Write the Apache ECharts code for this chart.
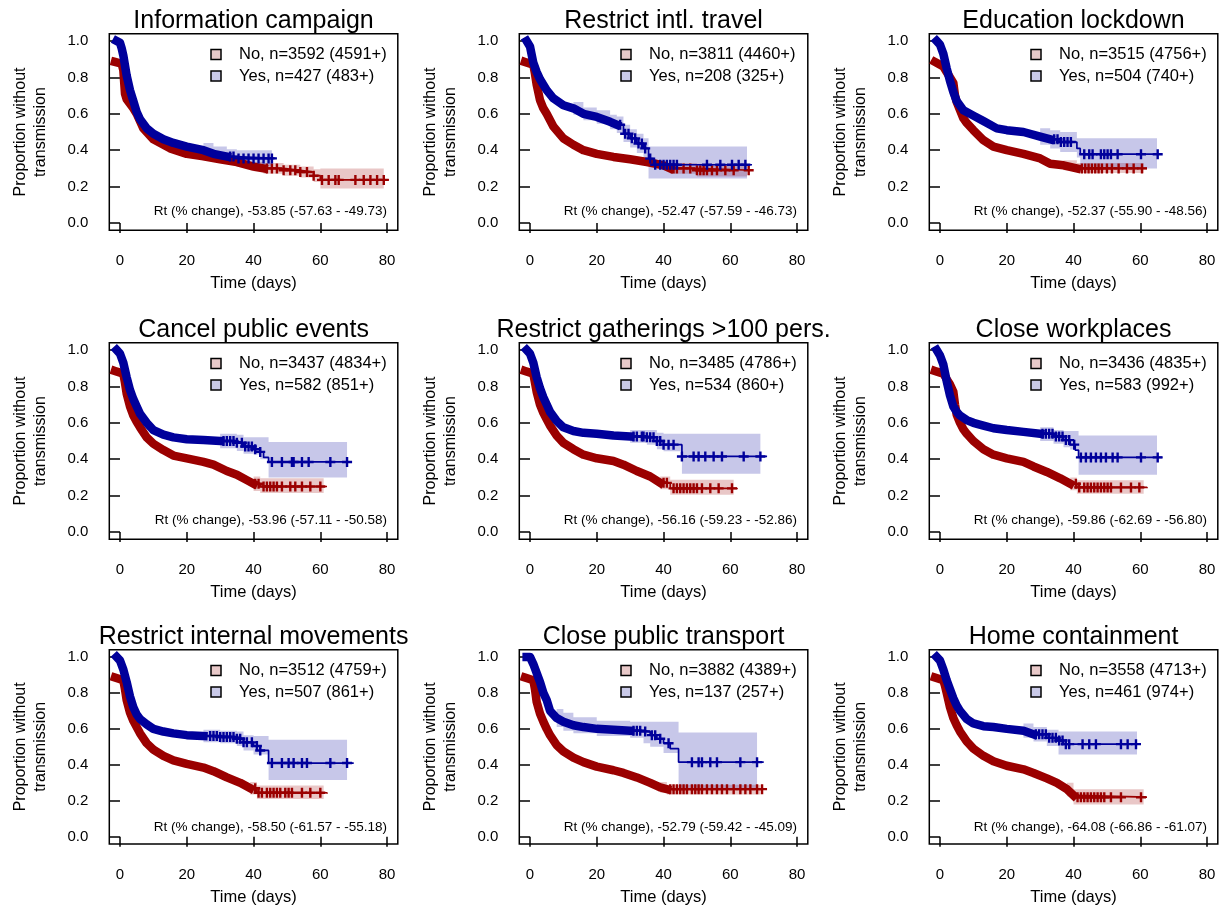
<!DOCTYPE html>
<html><head><meta charset="utf-8">
<script src="https://cdn.jsdelivr.net/npm/echarts@6/dist/echarts.min.js"></script>
<style>html,body{margin:0;padding:0;background:#fff}#c{width:1219px;height:907px}</style>
</head><body><div id="c"></div>
<script>
// ---------------- DATA ----------------
const TITLES = ["Information campaign","Restrict intl. travel","Education lockdown","Cancel public events","Restrict gatherings >100 pers.","Close workplaces","Restrict internal movements","Close public transport","Home containment"];
const NO_LABELS = ["No, n=3592 (4591+)","No, n=3811 (4460+)","No, n=3515 (4756+)","No, n=3437 (4834+)","No, n=3485 (4786+)","No, n=3436 (4835+)","No, n=3512 (4759+)","No, n=3882 (4389+)","No, n=3558 (4713+)"];
const YES_LABELS = ["Yes, n=427 (483+)","Yes, n=208 (325+)","Yes, n=504 (740+)","Yes, n=582 (851+)","Yes, n=534 (860+)","Yes, n=583 (992+)","Yes, n=507 (861+)","Yes, n=137 (257+)","Yes, n=461 (974+)"];
const RT_LABELS = ["Rt (% change), -53.85 (-57.63 - -49.73)","Rt (% change), -52.47 (-57.59 - -46.73)","Rt (% change), -52.37 (-55.90 - -48.56)","Rt (% change), -53.96 (-57.11 - -50.58)","Rt (% change), -56.16 (-59.23 - -52.86)","Rt (% change), -59.86 (-62.69 - -56.80)","Rt (% change), -58.50 (-61.57 - -55.18)","Rt (% change), -52.79 (-59.42 - -45.09)","Rt (% change), -64.08 (-66.86 - -61.07)"];
const X_TICKS = [0, 20, 40, 60, 80];
const Y_TICKS = [0, 0.2, 0.4, 0.6, 0.8, 1.0];
// time up to which censoring marks are so dense they merge into a thick band
const DENSE_NO = [43, 42, 41, 40, 39, 39, 39, 41, 40];
const DENSE_YES = [32, 26, 33, 30, 30, 30, 25, 30, 28];

// 1 Information campaign
const ic_no_t = [-1.5, 0.5, 1, 1.5, 2, 4, 5, 7, 10, 15, 20, 25, 30, 35, 40, 43, 49, 54, 58, 60, 80.5];
const ic_no_s = [0.885, 0.875, 0.84, 0.71, 0.68, 0.63, 0.60, 0.52, 0.46, 0.41, 0.38, 0.367, 0.35, 0.335, 0.31, 0.30, 0.29, 0.28, 0.26, 0.237, 0.237];
const ic_no_bt = [40, 43, 49, 54, 58, 60, 79];
const ic_no_lo = [0.285, 0.27, 0.26, 0.25, 0.225, 0.19, 0.19];
const ic_no_hi = [0.335, 0.33, 0.32, 0.31, 0.295, 0.30, 0.30];
const ic_no_cens = [44, 45.5, 47, 49, 51, 52.5, 54, 56, 58, 60.5, 62.5, 64.5, 65.5, 70.5, 73, 75, 77, 79];
const ic_yes_t = [-1, 0, 0.5, 1, 2, 3, 4, 5, 6, 8, 10, 13, 16, 20, 25, 28, 32, 35, 46.5];
const ic_yes_s = [1.0, 0.99, 0.96, 0.92, 0.81, 0.73, 0.67, 0.61, 0.57, 0.52, 0.49, 0.46, 0.44, 0.42, 0.40, 0.38, 0.365, 0.355, 0.355];
const ic_yes_bt = [25, 28, 32, 35, 45.5];
const ic_yes_lo = [0.36, 0.34, 0.325, 0.31, 0.31];
const ic_yes_hi = [0.44, 0.42, 0.405, 0.40, 0.40];
const ic_yes_cens = [33, 34, 35.5, 37, 38.5, 40, 41.5, 43, 44.5, 45.5];

// 2 Restrict intl. travel
const rit_no_t = [-1.5, 1, 1.5, 2, 3, 4, 5, 7, 10, 13, 16, 20, 25, 30, 35, 40, 42, 50, 66.5];
const rit_no_s = [0.885, 0.87, 0.82, 0.76, 0.675, 0.63, 0.60, 0.53, 0.465, 0.43, 0.40, 0.38, 0.363, 0.35, 0.335, 0.317, 0.30, 0.29, 0.29];
const rit_no_bt = [42, 50, 65];
const rit_no_lo = [0.27, 0.255, 0.255];
const rit_no_hi = [0.33, 0.325, 0.325];
const rit_no_cens = [43, 44, 46, 48, 50, 51, 52, 53, 54.5, 56, 58.5, 61, 65.5];
const rit_yes_t = [-1, 0, 1, 2, 3, 4, 5, 7, 10, 13, 16, 20, 24, 26, 28, 30, 32, 34, 35.5, 37, 66.5];
const rit_yes_s = [1.0, 0.97, 0.88, 0.83, 0.79, 0.76, 0.73, 0.685, 0.647, 0.63, 0.60, 0.583, 0.556, 0.54, 0.49, 0.465, 0.437, 0.41, 0.354, 0.32, 0.32];
const rit_yes_bt = [13, 16, 20, 24, 26, 28, 30, 32, 34, 35.5, 65];
const rit_yes_lo = [0.595, 0.565, 0.545, 0.515, 0.495, 0.445, 0.415, 0.385, 0.355, 0.245, 0.245];
const rit_yes_hi = [0.665, 0.635, 0.62, 0.595, 0.585, 0.54, 0.515, 0.49, 0.465, 0.42, 0.42];
const rit_yes_cens = [27, 28.5, 29.5, 30.5, 31.5, 32.5, 33.5, 34.5, 36, 37.5, 39, 40, 41, 42, 43, 44, 53, 57, 60.5, 62.5, 64.5];

// 3 Education lockdown
const el_no_t = [-1.5, 1, 2, 3, 4, 4.5, 5, 6, 7, 8, 10, 13, 16, 20, 25, 30, 33, 37, 41, 62];
const el_no_s = [0.885, 0.86, 0.83, 0.80, 0.77, 0.70, 0.665, 0.62, 0.575, 0.55, 0.51, 0.455, 0.42, 0.40, 0.38, 0.355, 0.326, 0.317, 0.30, 0.30];
const el_no_bt = [37, 41, 61];
const el_no_lo = [0.29, 0.275, 0.275];
const el_no_hi = [0.345, 0.33, 0.33];
const el_no_cens = [42.5, 43.5, 44.5, 45.5, 46.5, 47.5, 48.5, 50, 51.5, 53.5, 56, 58, 60.5];
const el_yes_t = [-1, 0, 1, 2, 3, 4, 5, 7, 10, 13, 17, 20, 25, 30, 33, 36, 41, 42, 66.5];
const el_yes_s = [1.0, 0.98, 0.93, 0.85, 0.78, 0.72, 0.67, 0.62, 0.59, 0.56, 0.52, 0.51, 0.50, 0.475, 0.46, 0.445, 0.41, 0.378, 0.378];
const el_yes_bt = [30, 33, 36, 41, 42, 65];
const el_yes_lo = [0.43, 0.41, 0.39, 0.36, 0.30, 0.30];
const el_yes_hi = [0.52, 0.51, 0.50, 0.465, 0.465, 0.465];
const el_yes_cens = [34.2, 35.2, 36.2, 37.2, 38.2, 39.2, 43.2, 44.7, 45.7, 48.2, 49.2, 50.2, 51.2, 53.2, 60.2, 65.2];

// 4 Cancel public events
const cpe_no_t = [-1.5, 1, 1.5, 2, 3, 4, 5, 6, 8, 10, 13, 16, 20, 25, 28, 32, 35, 38, 40, 42, 62];
const cpe_no_s = [0.885, 0.87, 0.82, 0.76, 0.69, 0.64, 0.605, 0.575, 0.52, 0.485, 0.45, 0.42, 0.405, 0.385, 0.37, 0.335, 0.315, 0.285, 0.265, 0.25, 0.25];
const cpe_no_bt = [40, 42, 61];
const cpe_no_lo = [0.225, 0.215, 0.215];
const cpe_no_hi = [0.305, 0.295, 0.295];
const cpe_no_cens = [40.5, 41.5, 43, 44, 45, 46, 47, 48.5, 51, 52.5, 54.5, 57, 60];
const cpe_yes_t = [-1, 0, 1, 2, 3, 4, 5, 6, 8, 10, 13, 16, 20, 25, 30, 35, 37, 40, 42, 43, 44.5, 69.5];
const cpe_yes_s = [1.0, 0.98, 0.93, 0.85, 0.78, 0.73, 0.69, 0.65, 0.60, 0.56, 0.535, 0.52, 0.51, 0.505, 0.50, 0.49, 0.47, 0.455, 0.44, 0.41, 0.385, 0.385];
const cpe_yes_bt = [30, 35, 37, 40, 42, 44.5, 68];
const cpe_yes_lo = [0.46, 0.445, 0.43, 0.426, 0.40, 0.30, 0.30];
const cpe_yes_hi = [0.54, 0.535, 0.52, 0.52, 0.52, 0.495, 0.495];
const cpe_yes_cens = [31, 32, 33, 34, 35, 36.5, 37.5, 38.5, 39.5, 40.5, 42, 45.5, 48.5, 51.5, 52, 54.5, 56.5, 63, 68];

// 5 Restrict gatherings >100 pers.
const rg_no_t = [-1.5, 1, 1.5, 2, 3, 4, 5, 6, 8, 10, 13, 16, 20, 25, 28, 32, 36, 39, 42, 62];
const rg_no_s = [0.885, 0.87, 0.82, 0.77, 0.70, 0.655, 0.62, 0.585, 0.53, 0.49, 0.455, 0.425, 0.405, 0.39, 0.37, 0.335, 0.305, 0.27, 0.24, 0.235];
const rg_no_bt = [39, 42, 61];
const rg_no_lo = [0.235, 0.205, 0.205];
const rg_no_hi = [0.305, 0.287, 0.287];
const rg_no_cens = [40, 41, 43, 44, 45, 46, 47, 48, 49, 50, 51.5, 54, 56.5, 60.5];
const rg_yes_t = [-1, 0, 1, 2, 3, 4, 5, 6, 8, 10, 13, 16, 20, 25, 30, 35, 38, 40, 45.5, 71];
const rg_yes_s = [1.0, 0.98, 0.93, 0.85, 0.79, 0.74, 0.70, 0.66, 0.61, 0.575, 0.555, 0.545, 0.54, 0.53, 0.525, 0.52, 0.50, 0.48, 0.415, 0.415];
const rg_yes_bt = [30, 35, 38, 40, 45.5, 69];
const rg_yes_lo = [0.49, 0.48, 0.455, 0.444, 0.32, 0.32];
const rg_yes_hi = [0.56, 0.56, 0.545, 0.54, 0.54, 0.54];
const rg_yes_cens = [31, 32, 33.5, 34, 35, 36, 37, 38, 39, 40, 41.5, 43, 45.5, 49, 50.5, 52.5, 55, 57.5, 64, 69];

// 6 Close workplaces
const cw_no_t = [-1.5, 1, 2, 3, 4, 4.5, 5, 6, 7, 8, 10, 13, 16, 20, 25, 28, 32, 36, 39, 41, 62];
const cw_no_s = [0.885, 0.87, 0.84, 0.81, 0.77, 0.70, 0.645, 0.60, 0.565, 0.54, 0.50, 0.455, 0.425, 0.405, 0.385, 0.36, 0.33, 0.295, 0.265, 0.245, 0.24];
const cw_no_bt = [39, 41, 61];
const cw_no_lo = [0.23, 0.21, 0.21];
const cw_no_hi = [0.30, 0.285, 0.285];
const cw_no_cens = [40.7, 41.7, 43.2, 44.2, 45.2, 46.2, 47.2, 48.2, 49.2, 50.2, 51.2, 54.2, 57.2, 59.7];
const cw_yes_t = [-1, 0, 1, 2, 3, 4, 5, 6, 8, 10, 13, 16, 20, 25, 30, 34, 37, 39, 40.5, 41.5, 66.5];
const cw_yes_s = [1.0, 0.97, 0.92, 0.83, 0.75, 0.69, 0.66, 0.64, 0.615, 0.60, 0.585, 0.57, 0.56, 0.55, 0.54, 0.525, 0.505, 0.48, 0.45, 0.41, 0.41];
const cw_yes_bt = [30, 34, 37, 39, 41.5, 65];
const cw_yes_lo = [0.50, 0.485, 0.465, 0.453, 0.315, 0.315];
const cw_yes_hi = [0.575, 0.56, 0.555, 0.555, 0.53, 0.53];
const cw_yes_cens = [30.7, 31.7, 32.7, 33.7, 34.7, 35.7, 36.7, 37.7, 38.7, 40.2, 42.2, 43.7, 45.2, 46.7, 48.2, 49.7, 51.7, 53.2, 60.2, 65.2];

// 7 Restrict internal movements
const rim_no_t = [-1.5, 1, 1.5, 2, 3, 4, 5, 6, 8, 10, 13, 16, 20, 25, 28, 32, 36, 39, 41, 62];
const rim_no_s = [0.885, 0.87, 0.82, 0.76, 0.69, 0.645, 0.61, 0.575, 0.52, 0.485, 0.45, 0.425, 0.405, 0.385, 0.365, 0.33, 0.30, 0.27, 0.245, 0.24];
const rim_no_bt = [39, 41, 61];
const rim_no_lo = [0.235, 0.21, 0.21];
const rim_no_hi = [0.305, 0.285, 0.285];
const rim_no_cens = [40.5, 41.5, 42.5, 44, 45, 46, 47, 48, 49.5, 50.5, 51.5, 54.5, 57, 60];
const rim_yes_t = [-1, 0, 1, 2, 3, 4, 5, 6, 8, 10, 13, 16, 20, 25, 30, 35, 37, 40, 42, 44.5, 70];
const rim_yes_s = [1.0, 0.98, 0.93, 0.86, 0.78, 0.72, 0.68, 0.655, 0.625, 0.60, 0.585, 0.575, 0.565, 0.56, 0.555, 0.545, 0.525, 0.505, 0.48, 0.41, 0.41];
const rim_yes_bt = [25, 30, 35, 37, 40, 44.5, 68];
const rim_yes_lo = [0.525, 0.52, 0.505, 0.48, 0.457, 0.316, 0.316];
const rim_yes_hi = [0.595, 0.59, 0.585, 0.565, 0.56, 0.54, 0.54];
const rim_yes_cens = [27, 28, 29, 30, 31, 32, 33, 34, 35, 36, 37, 38, 39.5, 41, 42, 45.5, 48.5, 50.5, 52, 54.5, 56, 63, 68];

// 8 Close public transport
const cpt_no_t = [-1.5, 1, 1.5, 2, 3, 4, 5, 6, 8, 10, 13, 16, 20, 25, 28, 32, 36, 39, 41, 70];
const cpt_no_s = [0.885, 0.87, 0.82, 0.75, 0.685, 0.64, 0.60, 0.565, 0.51, 0.475, 0.44, 0.415, 0.39, 0.37, 0.355, 0.33, 0.30, 0.275, 0.265, 0.265];
const cpt_no_bt = [39, 41, 69];
const cpt_no_lo = [0.245, 0.235, 0.235];
const cpt_no_hi = [0.305, 0.29, 0.29];
const cpt_no_cens = [42, 43, 44, 45, 46, 47, 48.5, 49.5, 50.5, 51.5, 53, 54.5, 56, 57.5, 59, 61, 63, 64.5, 66, 68, 69.5];
const cpt_yes_t = [-1, 0, 1, 2, 3, 4, 5, 6, 8, 10, 13, 16, 20, 25, 30, 34, 36, 38, 40, 42, 44.5, 70];
const cpt_yes_s = [1.0, 1.0, 0.96, 0.91, 0.86, 0.80, 0.76, 0.70, 0.66, 0.64, 0.62, 0.61, 0.60, 0.595, 0.59, 0.585, 0.565, 0.545, 0.52, 0.49, 0.415, 0.415];
const cpt_yes_bt = [8, 10, 13, 20, 30, 34, 36, 40, 44.5, 68];
const cpt_yes_lo = [0.61, 0.59, 0.575, 0.56, 0.55, 0.52, 0.50, 0.466, 0.26, 0.26];
const cpt_yes_hi = [0.71, 0.69, 0.665, 0.645, 0.64, 0.64, 0.64, 0.64, 0.58, 0.58];
const cpt_yes_cens = [31, 32, 33, 34.5, 36.5, 37.5, 39, 41.5, 48.5, 50.5, 51.5, 54, 56, 63, 68];

// 9 Home containment
const hc_no_t = [-1.5, 1, 1.5, 2, 3, 4, 5, 6, 8, 10, 13, 16, 20, 25, 28, 32, 35, 38, 40, 41, 62];
const hc_no_s = [0.885, 0.87, 0.84, 0.80, 0.72, 0.66, 0.62, 0.585, 0.53, 0.49, 0.45, 0.42, 0.395, 0.375, 0.355, 0.325, 0.30, 0.265, 0.23, 0.22, 0.22];
const hc_no_bt = [38, 40, 61];
const hc_no_lo = [0.225, 0.18, 0.18];
const hc_no_hi = [0.30, 0.265, 0.265];
const hc_no_cens = [41.2, 42.2, 43.2, 44.2, 45.2, 46.2, 47.2, 48.2, 49.2, 51.2, 54.2, 60.2];
const hc_yes_t = [-1, 0, 1, 2, 3, 4, 5, 6, 8, 10, 13, 16, 20, 25, 28, 32, 35, 37, 60];
const hc_yes_s = [1.0, 0.98, 0.93, 0.87, 0.82, 0.77, 0.73, 0.70, 0.655, 0.63, 0.615, 0.61, 0.60, 0.59, 0.57, 0.55, 0.535, 0.515, 0.515];
const hc_yes_bt = [25, 28, 32, 35.5, 59];
const hc_yes_lo = [0.55, 0.53, 0.505, 0.457, 0.457];
const hc_yes_hi = [0.63, 0.61, 0.595, 0.585, 0.585];
const hc_yes_cens = [28.7, 29.7, 30.7, 31.7, 32.7, 33.7, 34.7, 35.7, 36.7, 37.7, 38.7, 42.7, 44.7, 46.7, 54.2, 56.2, 58.7];

// ---------------- BUILD ----------------
const G = (t, s, bt, lo, hi, cens) => ({t, s, bt, lo, hi, cens});
const NO = [
  G(ic_no_t, ic_no_s, ic_no_bt, ic_no_lo, ic_no_hi, ic_no_cens),
  G(rit_no_t, rit_no_s, rit_no_bt, rit_no_lo, rit_no_hi, rit_no_cens),
  G(el_no_t, el_no_s, el_no_bt, el_no_lo, el_no_hi, el_no_cens),
  G(cpe_no_t, cpe_no_s, cpe_no_bt, cpe_no_lo, cpe_no_hi, cpe_no_cens),
  G(rg_no_t, rg_no_s, rg_no_bt, rg_no_lo, rg_no_hi, rg_no_cens),
  G(cw_no_t, cw_no_s, cw_no_bt, cw_no_lo, cw_no_hi, cw_no_cens),
  G(rim_no_t, rim_no_s, rim_no_bt, rim_no_lo, rim_no_hi, rim_no_cens),
  G(cpt_no_t, cpt_no_s, cpt_no_bt, cpt_no_lo, cpt_no_hi, cpt_no_cens),
  G(hc_no_t, hc_no_s, hc_no_bt, hc_no_lo, hc_no_hi, hc_no_cens)
];
const YES = [
  G(ic_yes_t, ic_yes_s, ic_yes_bt, ic_yes_lo, ic_yes_hi, ic_yes_cens),
  G(rit_yes_t, rit_yes_s, rit_yes_bt, rit_yes_lo, rit_yes_hi, rit_yes_cens),
  G(el_yes_t, el_yes_s, el_yes_bt, el_yes_lo, el_yes_hi, el_yes_cens),
  G(cpe_yes_t, cpe_yes_s, cpe_yes_bt, cpe_yes_lo, cpe_yes_hi, cpe_yes_cens),
  G(rg_yes_t, rg_yes_s, rg_yes_bt, rg_yes_lo, rg_yes_hi, rg_yes_cens),
  G(cw_yes_t, cw_yes_s, cw_yes_bt, cw_yes_lo, cw_yes_hi, cw_yes_cens),
  G(rim_yes_t, rim_yes_s, rim_yes_bt, rim_yes_lo, rim_yes_hi, rim_yes_cens),
  G(cpt_yes_t, cpt_yes_s, cpt_yes_bt, cpt_yes_lo, cpt_yes_hi, cpt_yes_cens),
  G(hc_yes_t, hc_yes_s, hc_yes_bt, hc_yes_lo, hc_yes_hi, hc_yes_cens)
];

const FONT = "'Liberation Sans', Arial, Helvetica, sans-serif";
const RED = '#9b0000', BLUE = '#00009b';
const RED_BAND = 'rgba(155,0,0,0.22)', BLUE_BAND = 'rgba(0,0,155,0.22)';
const RED_KEY = '#e8c9c9', BLUE_KEY = '#c9c9e8';
const PLUS = 'path://M3.8,0H6.2V3.8H10V6.2H6.2V10H3.8V6.2H0V3.8H3.8Z';

const BOX_L = 109.3, COL_W = 410, BOX_W = 288.5, BOX_H = 196.6;
const ROW_T = [33.7, 342.7, 649.7];

function stepAt(T, S, x) {
  let v = S[0];
  for (let i = 0; i < T.length; i++) { if (T[i] <= x) v = S[i]; else break; }
  return v;
}

const grids = [], xAxes = [], yAxes = [], series = [], graphics = [];

function bandSeries(g, grp, color) {
  return {
    type: 'custom', xAxisIndex: g, yAxisIndex: g, silent: true, z: 1, clip: true,
    data: [[grp.bt[0], grp.lo[0]]],
    renderItem: function (params, api) {
      const pts = [], n = grp.bt.length;
      for (let i = 0; i < n - 1; i++) {
        pts.push(api.coord([grp.bt[i], grp.hi[i]]));
        pts.push(api.coord([grp.bt[i + 1], grp.hi[i]]));
      }
      for (let i = n - 2; i >= 0; i--) {
        pts.push(api.coord([grp.bt[i + 1], grp.lo[i]]));
        pts.push(api.coord([grp.bt[i], grp.lo[i]]));
      }
      return { type: 'polygon', shape: { points: pts }, style: { fill: color } };
    }
  };
}

function curveSeries(g, grp, cut, color, z) {
  const pts = grp.t.map((t, i) => [t, grp.s[i]]);
  let k = grp.t.findIndex(v => v >= cut);
  if (k < 0) k = pts.length - 1;
  const out = [];
  out.push({
    type: 'line', xAxisIndex: g, yAxisIndex: g, data: pts.slice(k), step: 'end',
    symbol: 'none', silent: true, z: z, clip: true,
    lineStyle: { color: color, width: 1.7 }
  });
  out.push({
    type: 'line', xAxisIndex: g, yAxisIndex: g, data: pts.slice(0, k + 1),
    symbol: 'none', silent: true, z: z, clip: true,
    lineStyle: { color: color, width: 8.5, cap: 'square', join: 'round' }
  });
  out.push({
    type: 'scatter', xAxisIndex: g, yAxisIndex: g, silent: true, z: z,
    data: grp.cens.map(t => [t, stepAt(grp.t, grp.s, t)]),
    symbol: PLUS, symbolSize: 10, itemStyle: { color: color, opacity: 1 }
  });
  return out;
}

for (let i = 0; i < 9; i++) {
  const c = i % 3, r = Math.floor(i / 3);
  const left = BOX_L + COL_W * c, top = ROW_T[r];
  grids.push({ left: left, top: top, width: BOX_W, height: BOX_H, show: true,
    borderColor: '#000', borderWidth: 1.5, backgroundColor: 'transparent' });
  xAxes.push({
    gridIndex: i, type: 'value', min: -3.2, max: 83.2,
    axisLine: { show: false }, splitLine: { show: false },
    axisTick: { show: true, length: 10, customValues: X_TICKS, lineStyle: { color: '#000', width: 1.5 } },
    axisLabel: { customValues: X_TICKS, margin: 23, fontSize: 15, color: '#000', fontFamily: FONT },
    name: 'Time (days)', nameLocation: 'middle', nameGap: 45,
    nameTextStyle: { fontSize: 16.5, color: '#000', fontFamily: FONT, verticalAlign: 'top' }
  });
  yAxes.push({
    gridIndex: i, type: 'value', min: -0.04, max: 1.04,
    axisLine: { show: false }, splitLine: { show: false },
    axisTick: { show: true, length: 10, customValues: Y_TICKS, lineStyle: { color: '#000', width: 1.5 } },
    axisLabel: { customValues: Y_TICKS, margin: 21, fontSize: 15, color: '#000', fontFamily: FONT,
      formatter: v => v.toFixed(1) },
    name: 'Proportion without\ntransmission', nameLocation: 'middle', nameGap: 58.5,
    nameTextStyle: { fontSize: 16, lineHeight: 20, color: '#000', fontFamily: FONT }
  });
  series.push(bandSeries(i, NO[i], RED_BAND));
  series.push(bandSeries(i, YES[i], BLUE_BAND));
  curveSeries(i, NO[i], DENSE_NO[i], RED, 3).forEach(s => series.push(s));
  curveSeries(i, YES[i], DENSE_YES[i], BLUE, 4).forEach(s => series.push(s));

  graphics.push({ type: 'text', x: left + BOX_W / 2, y: top - 12.5, silent: true,
    style: { text: TITLES[i], fontSize: 25, fontFamily: FONT, fill: '#000', align: 'center', verticalAlign: 'middle' } });
  graphics.push({ type: 'rect', shape: { x: left + 101.7, y: top + 15.8, width: 10, height: 10 }, silent: true,
    style: { fill: RED_KEY, stroke: '#000', lineWidth: 1.5 } });
  graphics.push({ type: 'rect', shape: { x: left + 101.7, y: top + 37.4, width: 10, height: 10 }, silent: true,
    style: { fill: BLUE_KEY, stroke: '#000', lineWidth: 1.5 } });
  graphics.push({ type: 'text', x: left + 129.7, y: top + 20.8, silent: true,
    style: { text: NO_LABELS[i], fontSize: 16.5, fontFamily: FONT, fill: '#000', align: 'left', verticalAlign: 'middle' } });
  graphics.push({ type: 'text', x: left + 129.7, y: top + 42.4, silent: true,
    style: { text: YES_LABELS[i], fontSize: 16.5, fontFamily: FONT, fill: '#000', align: 'left', verticalAlign: 'middle' } });
  graphics.push({ type: 'text', x: left + 277.7, y: top + 177.3, silent: true,
    style: { text: RT_LABELS[i], fontSize: 13.5, fontFamily: FONT, fill: '#000', align: 'right', verticalAlign: 'middle' } });
}

const chart = echarts.init(document.getElementById('c'), null, { renderer: 'canvas' });
chart.setOption({
  animation: false,
  backgroundColor: '#fff',
  grid: grids, xAxis: xAxes, yAxis: yAxes, series: series,
  graphic: { elements: graphics }
});
</script></body></html>
